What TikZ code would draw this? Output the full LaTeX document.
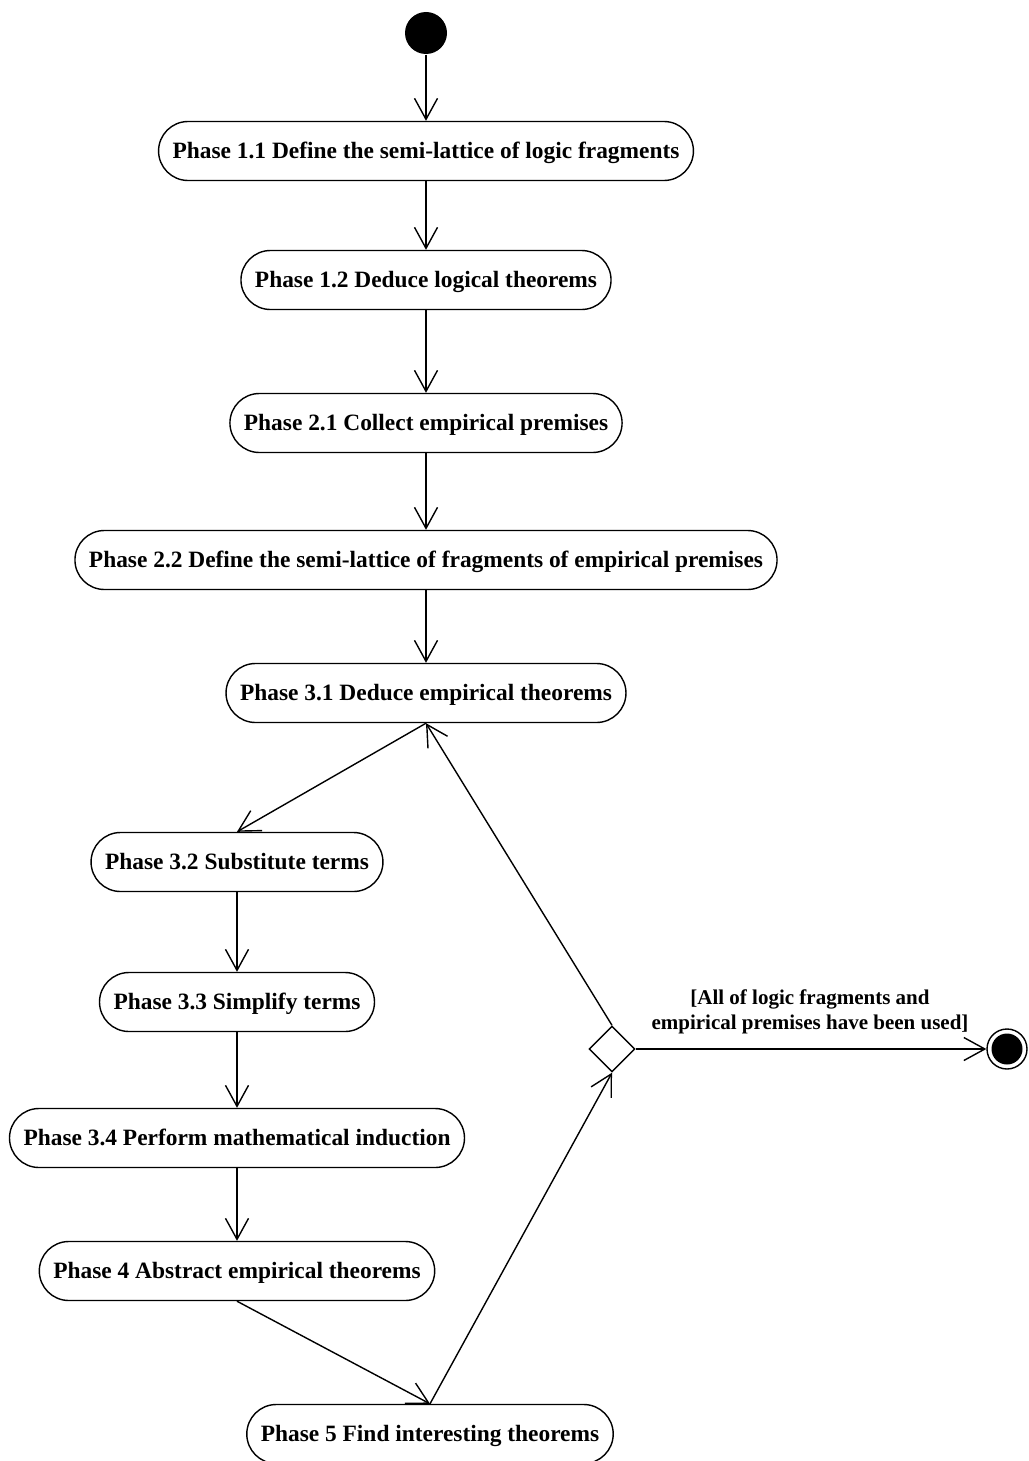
\documentclass[tikz,border=0pt]{standalone}
\usepackage{fontspec}
\setmainfont{Liberation Serif}
\usetikzlibrary{arrows.meta,shapes.geometric}
\begin{document}
\begin{tikzpicture}[x=1pt,y=-1pt,
  line width=1.4pt,
  phase/.style={draw, rectangle, rounded corners=29.5pt, minimum height=59pt,
    inner xsep=14pt, text height=16pt, text depth=1pt,
    font=\fontsize{23.4pt}{28pt}\selectfont\bfseries},
  flow/.style={-{Straight Barb[length=21pt,width=23pt,line width=1.4pt]}},
  guard/.style={font=\fontsize{21pt}{25pt}\selectfont\bfseries, align=center}]
  \useasboundingbox (0,0) rectangle (1028,1461);
  \clip (0,0) rectangle (1028,1461);

  % initial and final states
  \node (start) [circle, fill=black, minimum size=42pt, inner sep=0pt] at (426,33) {};
  \node (stop) [circle, draw, minimum size=40pt, inner sep=0pt] at (1007,1049) {};
  \fill (stop.center) circle (15.5pt);

  % activities
  \node (n11) [phase] at (426,151) {Phase 1.1 Define the semi-lattice of logic fragments};
  \node (n12) [phase] at (426,280) {Phase 1.2 Deduce logical theorems};
  \node (n21) [phase] at (426,423) {Phase 2.1 Collect empirical premises};
  \node (n22) [phase] at (426,560) {Phase 2.2 Define the semi-lattice of fragments of empirical premises};
  \node (n31) [phase] at (426,693) {Phase 3.1 Deduce empirical theorems};
  \node (n32) [phase] at (237,862) {Phase 3.2 Substitute terms};
  \node (n33) [phase] at (237,1002) {Phase 3.3 Simplify terms};
  \node (n34) [phase] at (237,1138) {Phase 3.4 Perform mathematical induction};
  \node (n4)  [phase] at (237,1271) {Phase 4 Abstract empirical theorems};
  \node (n5)  [phase] at (430,1434) {Phase 5 Find interesting theorems};

  % decision
  \node (dec) [diamond, draw, minimum size=46pt, inner sep=0pt, aspect=1] at (612,1049) {};

  % control flow
  \draw[flow] (start) -- (n11);
  \draw[flow] (n11) -- (n12);
  \draw[flow] (n12) -- (n21);
  \draw[flow] (n21) -- (n22);
  \draw[flow] (n22) -- (n31);
  \draw[flow] (n31.south) -- (n32.north);
  \draw[flow] (n32) -- (n33);
  \draw[flow] (n33) -- (n34);
  \draw[flow] (n34) -- (n4);
  \draw[flow] (n4.south) -- (n5.north);
  \draw[flow] (n5.north) -- (dec.south);
  \draw[flow] (dec.north) -- (n31.south);
  \draw[flow] (dec.east) -- (stop.west);

  \node (lbl) [guard] at (810,1012) {[All of logic fragments and\\empirical premises have been used]};
\end{tikzpicture}
\end{document}
